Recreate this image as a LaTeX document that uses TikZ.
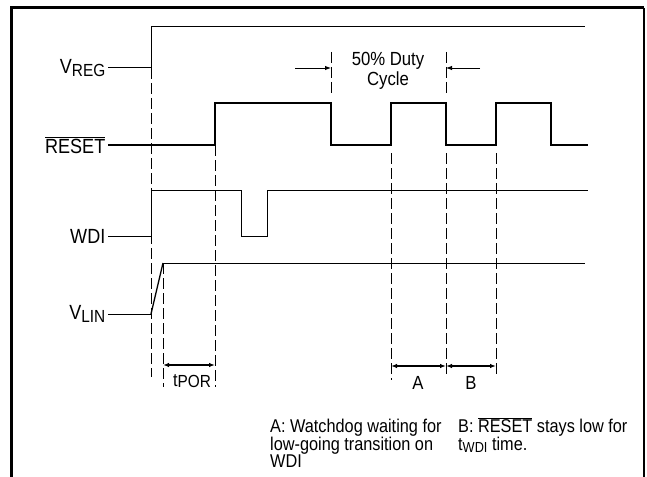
\documentclass[tikz,border=0pt]{standalone}
\usepackage{fontspec}
\setmainfont{Liberation Sans}
\newfontfamily\narrowfont[FakeStretch=0.88]{Liberation Sans}
\usetikzlibrary{arrows.meta}
\newcommand{\sigsub}[1]{\raisebox{-2.5pt}{\fontsize{17.5}{18}\selectfont #1}}
\begin{document}
\begin{tikzpicture}[x=1pt,y=-1pt,
  sig/.style={line width=1pt},
  thicksig/.style={line width=2pt},
  guide/.style={line width=0.9pt, dash pattern=on 11pt off 4pt},
  lbl/.style={font=\narrowfont\fontsize{20.5}{22}\selectfont, inner xsep=2.5pt, inner ysep=0pt, anchor=east},
  dimarrow/.style={line width=1.3pt, {Latex[length=6pt,width=4.5pt]}-{Latex[length=6pt,width=4.5pt]}},
  duty/.style={line width=0.9pt, -{Latex[length=6pt,width=4.5pt]}},
  note/.style={anchor=north west, inner sep=0pt, align=left, font=\narrowfont\fontsize{18.5}{17}\selectfont},
  tick/.style={inner sep=0pt, font=\narrowfont\fontsize{19}{19}\selectfont}
]
\useasboundingbox (0,0) rectangle (647,476);
\clip (0,0) rectangle (647,476);
\fill[white] (0,0) rectangle (647,476);
% frame
\draw[line width=3pt, line join=miter] (11,490) -- (11,8) -- (644,8);
\draw[line width=1.6pt] (644,8) -- (644,490);

% labels
\node[lbl] (vreg)  at (108,68)  {V\sigsub{REG}};
\node[lbl] (reset) at (108,145) {$\overline{\mbox{RESET}}$};
\node[lbl] (wdi)   at (108,236) {WDI};
\node[lbl] (vlin)  at (108,314) {V\sigsub{LIN}};

% guide lines
\draw[guide] (151,68) -- (151,377);
\draw[guide] (163,263) -- (163,387);
\draw[guide] (215,145) -- (215,387);
\draw[guide] (331,52) -- (331,96);
\draw[guide] (446,52) -- (446,96);
\draw[guide] (391,153) -- (391,380);
\draw[guide] (446,153) -- (446,376);
\draw[guide] (496,153) -- (496,376);

% signals
\draw[sig] (vreg.east) -- (151,68) -- (151,27) -- (585,27);
\draw[thicksig, line join=miter] (reset.east) -- (215,145) -- (215,103) -- (331,103) -- (331,145)
  -- (391,145) -- (391,103) -- (446,103) -- (446,145) -- (496,145) -- (496,103)
  -- (551,103) -- (551,145) -- (588,145);
\draw[sig] (wdi.east) -- (151,236) -- (151,190) -- (241,190) -- (241,236) -- (267,236)
  -- (267,190) -- (588,190);
\draw[sig] (vlin.east) -- (151,314);
\draw[line width=1.3pt] (151,314) -- (163,263);
\draw[sig] (163,263) -- (585,263);

% duty cycle
\node[align=center, inner sep=0pt, font=\narrowfont\fontsize{19}{20}\selectfont] (dutytxt) at (388,71) {50\% Duty\\Cycle};
\coordinate (dl) at (295,68);
\coordinate (dr) at (480,68);
\draw[duty] (dl) -- (331,68);
\draw[duty] (dr) -- (446,68);

% dimensions
\draw[dimarrow] (163,365) -- (215,365);
\node[inner sep=0pt, font=\narrowfont\fontsize{18.5}{19}\selectfont] (tpor) at (192,381) {t\raisebox{-1pt}{\fontsize{17.5}{18}\selectfont POR}};
\draw[dimarrow] (391,366) -- (446,366);
\draw[dimarrow] (446,366) -- (496,366);
\node[tick] (la) at (418,383) {A};
\node[tick] (lb) at (471,383) {B};

% notes
\node[note] (notea) at (270,415) {\rule{0pt}{17pt}A: Watchdog waiting for\\low-going transition on\\WDI};
\node[note] (noteb) at (458,415) {\rule{0pt}{17pt}B: $\overline{\mbox{RESET}}$ stays low for\\t\raisebox{-2pt}{\fontsize{14.5}{15}\selectfont WDI} time.};
\end{tikzpicture}
\end{document}
